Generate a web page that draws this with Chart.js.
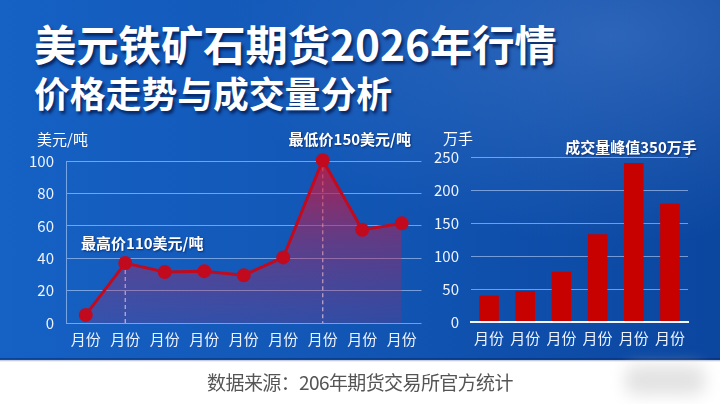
<!DOCTYPE html>
<html>
<head>
<meta charset="utf-8">
<script src="https://cdn.jsdelivr.net/npm/chart.js@4/dist/chart.umd.min.js"></script>
<style>
  html, body { margin: 0; padding: 0; }
  body {
    width: 720px; height: 404px; position: relative; overflow: hidden;
    background: #fff;
    font-family: "Noto Sans CJK SC", "Noto Sans", sans-serif;
  }
  #panel {
    position: absolute; left: 0; top: 0; width: 720px; height: 360px;
    background:
      radial-gradient(ellipse at 85% 10%, rgba(90,140,215,0.4), rgba(90,140,215,0) 45%),
      linear-gradient(90deg, #1561c4 0%, #1257b6 45%, #0b469f 100%);
  }
  #footline {
    position: absolute; left: 0; top: 358px; width: 720px; height: 4px;
    background: linear-gradient(180deg, rgba(5,40,110,0.6), rgba(5,40,110,0));
  }
  .title {
    position: absolute; left: 34px; color: #fff; font-weight: 700;
    text-shadow: 2px 3px 3px rgba(0,20,70,0.75); white-space: nowrap;
  }
  #t1 { top: 15px; font-size: 42.3px; line-height: 56px; }
  #t2 { top: 70px; font-size: 35.8px; line-height: 44px; }
  canvas { position: absolute; }
  #lineWrap { position: absolute; left: 0; top: 120px; width: 430px; height: 235px; }
  #barWrap { position: absolute; left: 425px; top: 120px; width: 295px; height: 235px; }
  #source {
    position: absolute; left: 0; top: 368px; width: 720px; text-align: center;
    font-size: 19px; color: #555; letter-spacing: -0.6px;
  }
  #blur {
    position: absolute; left: 625px; top: 365px; width: 80px; height: 30px;
    background: rgba(200,200,200,0.5); filter: blur(8px); border-radius: 10px;
  }
</style>
</head>
<body>
<div id="panel"></div>
<div id="footline"></div>
<div id="t1" class="title">美元铁矿石期货2026年行情</div>
<div id="t2" class="title">价格走势与成交量分析</div>
<div id="lineWrap"><canvas id="lineChart" width="430" height="235"></canvas></div>
<div id="barWrap"><canvas id="barChart" width="295" height="235"></canvas></div>
<div id="blur"></div>
<div id="source">数据来源：206年期货交易所官方统计</div>

<script>
// price line (美元/吨)
const priceLabels = ['月份', '月份', '月份', '月份', '月份', '月份', '月份', '月份', '月份'];
const priceValues = [5, 37, 31.5, 32, 29.5, 40.5, 100.5, 57.5, 61.5];
const priceTicks = [0, 20, 40, 60, 80, 100];

// volume bars (万手)
const volumeLabels = ['月份', '月份', '月份', '月份', '月份', '月份'];
const volumeValues = [40, 47, 76, 133, 241, 179];
const volumeTicks = [0, 50, 100, 150, 200, 250];

const FONT = '"Noto Sans CJK SC", "Noto Sans", sans-serif';
const RED = '#c20a1e';
const BAR_RED = '#c70000';
const GRID = 'rgba(200,220,255,0.55)';
const TICK = '#eef4ff';

Chart.defaults.font.family = FONT;
Chart.defaults.animation = false;

// dashed drop lines + callout labels on the line chart
const lineExtras = {
  id: 'lineExtras',
  beforeDatasetsDraw(chart) {
    const ctx = chart.ctx;
    const x = chart.scales.x, y = chart.scales.y;
    ctx.save();
    ctx.strokeStyle = 'rgba(235,240,255,0.85)';
    ctx.lineWidth = 1.2;
    ctx.setLineDash([4, 3]);
    [1, 6].forEach(i => {
      const px = x.getPixelForValue(i);
      ctx.beginPath();
      ctx.moveTo(px, y.getPixelForValue(priceValues[i]));
      ctx.lineTo(px, y.getPixelForValue(0));
      ctx.stroke();
    });
    ctx.restore();
  },
  afterDraw(chart) {
    const ctx = chart.ctx;
    const x = chart.scales.x, y = chart.scales.y;
    ctx.save();
    ctx.fillStyle = '#fff';
    ctx.textBaseline = 'middle';
    ctx.font = '15px ' + FONT;
    ctx.textAlign = 'left';
    ctx.fillText('美元/吨', 37, 19);
    ctx.font = 'bold 15px ' + FONT;
    ctx.textAlign = 'center';
    ctx.shadowColor = 'rgba(0,20,70,0.6)';
    ctx.shadowOffsetX = 1; ctx.shadowOffsetY = 1; ctx.shadowBlur = 2;
    ctx.fillText('最高价110美元/吨', x.getPixelForValue(1) + 17, y.getPixelForValue(priceValues[1]) - 20);
    ctx.fillText('最低价150美元/吨', x.getPixelForValue(6) + 27, y.getPixelForValue(priceValues[6]) - 21);
    ctx.restore();
  }
};

const barExtras = {
  id: 'barExtras',
  afterDraw(chart) {
    const ctx = chart.ctx;
    ctx.save();
    ctx.fillStyle = '#fff';
    ctx.textBaseline = 'middle';
    ctx.font = '15px ' + FONT;
    ctx.textAlign = 'left';
    ctx.fillText('万手', 18, 18);
    ctx.font = 'bold 15px ' + FONT;
    ctx.textAlign = 'center';
    ctx.shadowColor = 'rgba(0,20,70,0.6)';
    ctx.shadowOffsetX = 1; ctx.shadowOffsetY = 1; ctx.shadowBlur = 2;
    ctx.fillText('成交量峰值350万手', 206, 27);
    ctx.restore();
  }
};

function fixSize(w, h) {
  return scale => {
    if (w != null) scale.width = w;
    if (h != null) scale.height = h;
  };
}

function renderLine() {
  const canvas = document.getElementById('lineChart');
  new Chart(canvas.getContext('2d'), {
    type: 'line',
    data: {
      labels: priceLabels,
      datasets: [{
        data: priceValues,
        borderColor: RED,
        borderWidth: 3,
        pointRadius: 5.5,
        pointBackgroundColor: RED,
        pointBorderColor: RED,
        tension: 0,
        fill: 'origin',
        backgroundColor: c => {
          const area = c.chart.chartArea;
          if (!area) return 'rgba(200,20,60,0.4)';
          const g = c.chart.ctx.createLinearGradient(0, area.top, 0, area.bottom);
          g.addColorStop(0, 'rgba(210,20,55,0.8)');
          g.addColorStop(0.5, 'rgba(190,30,80,0.45)');
          g.addColorStop(1, 'rgba(180,40,100,0.2)');
          return g;
        },
        clip: false,
      }],
    },
    options: {
      responsive: false,
      layout: { padding: { top: 41, right: 7, left: 0, bottom: 0 } },
      plugins: { legend: { display: false }, tooltip: { enabled: false } },
      scales: {
        x: {
          offset: true,
          grid: { display: false, drawTicks: false },
          border: { display: false },
          ticks: { color: TICK, font: { size: 15 }, padding: 7, maxRotation: 0, autoSkip: false },
          afterFit: fixSize(null, 32),
        },
        y: {
          min: 0, max: 100,
          afterBuildTicks: s => { s.ticks = priceTicks.map(v => ({ value: v })); },
          grid: { color: GRID, lineWidth: 1, drawTicks: false },
          border: { display: true, color: GRID, width: 1 },
          ticks: { color: TICK, font: { size: 15 }, padding: 12 },
          afterFit: fixSize(66, null),
        },
      },
    },
    plugins: [lineExtras],
  });
}

function renderBars() {
  const canvas = document.getElementById('barChart');
  new Chart(canvas.getContext('2d'), {
    type: 'bar',
    data: {
      labels: volumeLabels,
      datasets: [{
        data: volumeValues,
        backgroundColor: BAR_RED,
        categoryPercentage: 1,
        barPercentage: 0.54,
      }],
    },
    options: {
      responsive: false,
      layout: { padding: { top: 37, right: 32, left: 0, bottom: 0 } },
      plugins: { legend: { display: false }, tooltip: { enabled: false } },
      scales: {
        x: {
          grid: { display: false, drawTicks: false },
          border: { display: true, color: '#f2f6ff', width: 2, z: 1 },
          ticks: { color: TICK, font: { size: 15 }, padding: 7, maxRotation: 0, autoSkip: false },
          afterFit: fixSize(null, 33),
        },
        y: {
          min: 0, max: 250,
          afterBuildTicks: s => { s.ticks = volumeTicks.map(v => ({ value: v })); },
          grid: { color: GRID, lineWidth: 1, drawTicks: false },
          border: { display: false },
          ticks: { color: TICK, font: { size: 15 }, padding: 12 },
          afterFit: fixSize(46, null),
        },
      },
    },
    plugins: [barExtras],
  });
}

renderLine();
renderBars();
</script>
</body>
</html>
